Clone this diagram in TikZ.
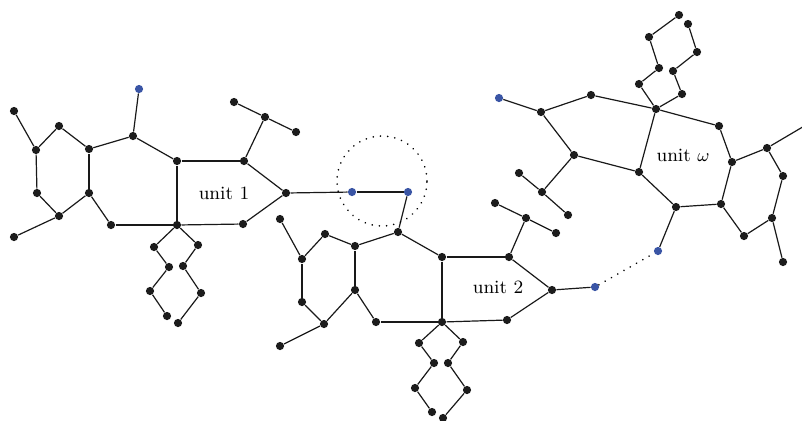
\documentclass[tikz,border=0pt]{standalone}
\begin{document}
\begin{tikzpicture}[x=0.5pt,y=-0.5pt,
  dot/.style={circle,fill=dotc,inner sep=0pt,minimum size=4.1pt},
  bdot/.style={circle,fill=bluec,inner sep=0pt,minimum size=4.1pt},
  edge/.style={line width=0.6pt,draw=black!90},
  dotline/.style={line width=0.9pt,dash pattern=on 0.01pt off 3.6pt,line cap=round},
  lbl/.style={font=\fontsize{9.4}{11}\selectfont}]
\definecolor{dotc}{HTML}{1C1C1C}
\definecolor{bluec}{HTML}{3A55A5}
\useasboundingbox (0,0) rectangle (802,420);
% ---------- unit 1 ----------
\node[bdot] (b1) at (139,89) {};
\foreach \n/\x/\y in {p1/133/136,p2/89/149,p3/59/126,p4/36/150,p5/14/111,p6/37/193,p7/59/216,p8/14/237,p9/89/193,p10/111/225,p11/177/225,p12/177/161,p13/244/161,p14/286/193,p15/243/224,p16/265/117,p17/234/102,p18/296/132,c1/154/247,c2/198/245,c3/169/267,c4/183/266,c5/150/291,c6/201/293,c7/167/316,c8/178/323}
  \node[dot] (\n) at (\x,\y) {};
\node[bdot] (b2) at (352,192) {};
\node[bdot] (b3) at (408,192) {};
% ---------- unit 2 ----------
\foreach \n/\x/\y in {q1/398/232,q2/355/246,q3/325/234,q4/302/259,q5/280/219,q6/302/302,q7/324/324,q8/280/346,q9/355/290,q10/376/322,q11/442/322,q12/442/257,q13/509/257,q14/552/290,q15/507/320,q16/526/218,q17/495/203,q18/556/233,d1/419/343,d2/463/342,d3/434/363,d4/448/363,d5/415/388,d6/467/390,d7/432/412,d8/443/418}
  \node[dot] (\n) at (\x,\y) {};
\node[bdot] (b4) at (595,287) {};
% ---------- unit omega ----------
\foreach \n/\x/\y in {r1/656/109,r2/591/95,r3/541/112,r4/574/155,r5/639/172,r6/542/192,r7/519/173,r8/568/215,r9/676/207,r10/721/204,r11/732/162,r12/719/126,r13/767/148,r14/783/176,r15/772/218,r16/783/262,r17/744/236,s1/639/84,s2/659/68,s3/649/37,s4/679/15,s5/682/94,s6/673/71,s7/697/52,s8/688/24}
  \node[dot] (\n) at (\x,\y) {};
\node[bdot] (b5) at (499,98) {};
\node[bdot] (b6) at (658,251) {};
\coordinate (e1) at (806,125);
% edges
\foreach \a/\b in {b1/p1,p1/p2,p1/p12,p2/p3,p3/p4,p4/p5,p4/p6,p6/p7,p7/p8,p7/p9,p9/p2,p9/p10,p10/p11,p11/p12,p12/p13,p13/p14,p14/p15,p15/p11,p13/p16,p16/p17,p16/p18,
  p11/c1,p11/c2,c1/c3,c2/c4,c3/c5,c4/c6,c5/c7,c6/c8,
  p14/b2,b2/b3,b3/q1,
  q5/q4,q4/q3,q3/q2,q2/q1,q1/q12,q12/q13,q13/q14,q14/q15,q15/q11,q11/q10,q10/q9,q9/q2,q9/q7,q7/q6,q6/q4,q7/q8,q12/q11,q13/q16,q16/q17,q16/q18,q14/b4,
  q11/d1,q11/d2,d1/d3,d2/d4,d3/d5,d4/d6,d5/d7,d6/d8,
  b5/r3,r3/r2,r2/r1,r1/r12,r12/r11,r11/r10,r10/r9,r9/r5,r5/r1,r5/r4,r4/r3,r4/r6,r6/r7,r6/r8,r11/r13,r13/e1,r13/r14,r14/r15,r15/r16,r15/r17,r17/r10,r9/b6,
  r1/s1,s1/s2,s2/s3,s3/s4,r1/s5,s5/s6,s6/s7,s7/s8}
  \draw[edge] (\a) -- (\b);
\draw[dotline] (b4) -- (b6);
\node[circle,minimum size=45pt,inner sep=0pt,dotline,draw] (circ) at (382,181) {};
\node[lbl] (l1) at (224,193) {unit 1};
\node[lbl] (l2) at (498,287) {unit 2};
\node[lbl] (l3) at (683,155) {unit $\omega$};
\end{tikzpicture}
\end{document}
